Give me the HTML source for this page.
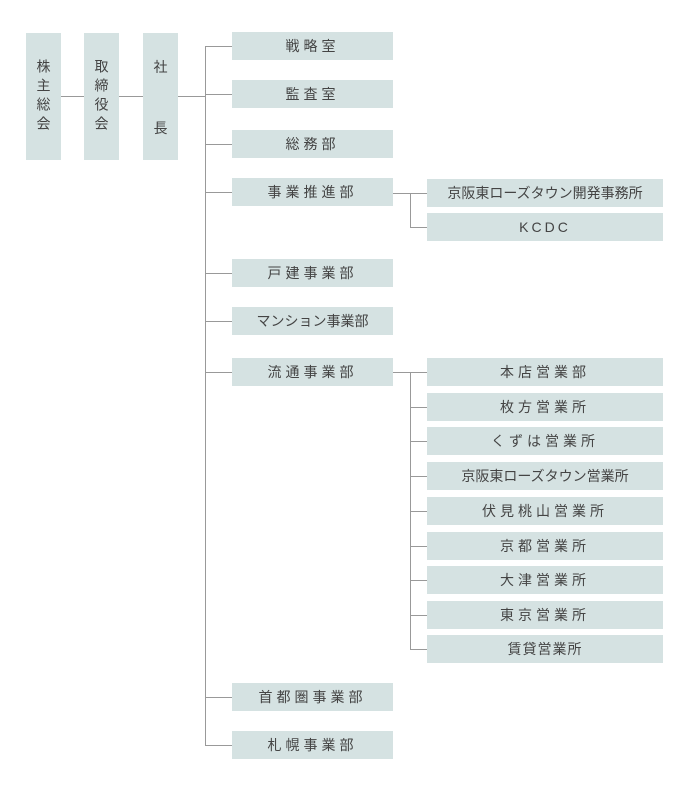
<!DOCTYPE html>
<html><head><meta charset="utf-8"><style>
body{margin:0;width:700px;height:798px;background:#fff;position:relative;font-family:"Liberation Sans","Noto Sans CJK JP",sans-serif;color:#444;overflow:hidden}
.b{position:absolute;background:#d5e2e2;display:flex;align-items:center;justify-content:center;font-size:14px;letter-spacing:4px}
.v{writing-mode:vertical-rl;letter-spacing:5px;line-height:1}
.l{position:absolute;background:#999}
.c{position:absolute;font-size:14px;line-height:14px;width:35px;text-align:center}
</style></head><body>
<div class="b v" style="left:26px;top:33px;width:35px;height:127px">株主総会</div>
<div class="b v" style="left:84px;top:33px;width:35px;height:127px">取締役会</div>
<div class="b" style="left:143px;top:33px;width:35px;height:127px"></div>
<div class="c" style="left:143px;top:60px">社</div>
<div class="c" style="left:143px;top:121px">長</div>
<div class="l" style="left:61px;top:96px;width:23px;height:1px"></div>
<div class="l" style="left:119px;top:96px;width:24px;height:1px"></div>
<div class="l" style="left:178px;top:96px;width:27px;height:1px"></div>
<div class="l" style="left:205px;top:46px;width:1px;height:699px"></div>

<div class="b" style="left:232px;top:32px;width:161px;height:28px">戦略室</div>
<div class="b" style="left:232px;top:80px;width:161px;height:28px">監査室</div>
<div class="b" style="left:232px;top:130px;width:161px;height:28px">総務部</div>
<div class="b" style="left:232px;top:178px;width:161px;height:28px">事業推進部</div>
<div class="b" style="left:232px;top:259px;width:161px;height:28px">戸建事業部</div>
<div class="b" style="left:232px;top:307px;width:161px;height:28px;letter-spacing:0">マンション事業部</div>
<div class="b" style="left:232px;top:358px;width:161px;height:28px">流通事業部</div>
<div class="b" style="left:232px;top:683px;width:161px;height:28px">首都圏事業部</div>
<div class="b" style="left:232px;top:731px;width:161px;height:28px">札幌事業部</div>
<div class="l" style="left:205px;top:46px;width:27px;height:1px"></div>
<div class="l" style="left:205px;top:94px;width:27px;height:1px"></div>
<div class="l" style="left:205px;top:144px;width:27px;height:1px"></div>
<div class="l" style="left:205px;top:192px;width:27px;height:1px"></div>
<div class="l" style="left:205px;top:273px;width:27px;height:1px"></div>
<div class="l" style="left:205px;top:321px;width:27px;height:1px"></div>
<div class="l" style="left:205px;top:372px;width:27px;height:1px"></div>
<div class="l" style="left:205px;top:697px;width:27px;height:1px"></div>
<div class="l" style="left:205px;top:745px;width:27px;height:1px"></div>

<div class="l" style="left:393px;top:193px;width:34px;height:1px"></div>
<div class="l" style="left:410px;top:193px;width:1px;height:34px"></div>
<div class="l" style="left:410px;top:227px;width:17px;height:1px"></div>
<div class="b" style="left:427px;top:179px;width:236px;height:28px;letter-spacing:0">京阪東ローズタウン開発事務所</div>
<div class="b" style="left:427px;top:213px;width:236px;height:28px;letter-spacing:3px">KCDC</div>

<div class="l" style="left:393px;top:372px;width:34px;height:1px"></div>
<div class="l" style="left:410px;top:372px;width:1px;height:277px"></div>
<div class="b" style="left:427px;top:358px;width:236px;height:28px">本店営業部</div>
<div class="b" style="left:427px;top:393px;width:236px;height:28px">枚方営業所</div>
<div class="b" style="left:427px;top:427px;width:236px;height:28px">くずは営業所</div>
<div class="b" style="left:427px;top:462px;width:236px;height:28px;letter-spacing:0">京阪東ローズタウン営業所</div>
<div class="b" style="left:427px;top:497px;width:236px;height:28px">伏見桃山営業所</div>
<div class="b" style="left:427px;top:532px;width:236px;height:28px">京都営業所</div>
<div class="b" style="left:427px;top:566px;width:236px;height:28px">大津営業所</div>
<div class="b" style="left:427px;top:601px;width:236px;height:28px">東京営業所</div>
<div class="b" style="left:427px;top:635px;width:236px;height:28px;letter-spacing:1px">賃貸営業所</div>
<div class="l" style="left:410px;top:407px;width:17px;height:1px"></div>
<div class="l" style="left:410px;top:441px;width:17px;height:1px"></div>
<div class="l" style="left:410px;top:476px;width:17px;height:1px"></div>
<div class="l" style="left:410px;top:511px;width:17px;height:1px"></div>
<div class="l" style="left:410px;top:546px;width:17px;height:1px"></div>
<div class="l" style="left:410px;top:580px;width:17px;height:1px"></div>
<div class="l" style="left:410px;top:615px;width:17px;height:1px"></div>
<div class="l" style="left:410px;top:649px;width:17px;height:1px"></div>
</body></html>
